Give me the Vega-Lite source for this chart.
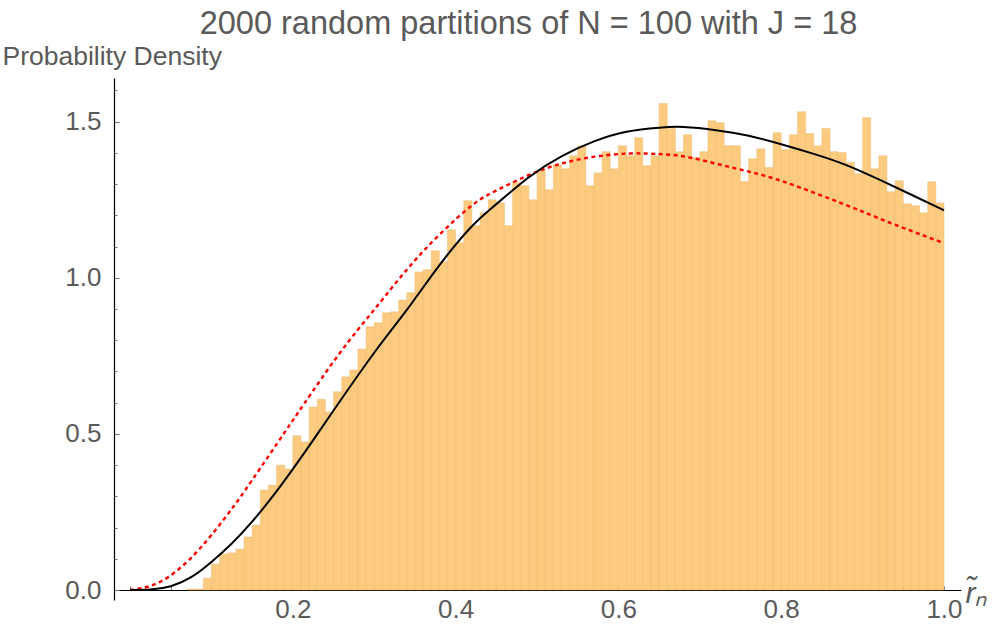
{
  "$schema": "https://vega.github.io/schema/vega-lite/v6.json",
  "width": 847,
  "height": 522,
  "autosize": {"type": "none"},
  "padding": {"left": 114, "top": 78, "right": 39, "bottom": 26},
  "background": "white",
  "config": {"view": {"stroke": null}, "font": "Liberation Sans"},
  "title": {
    "text": "2000 random partitions of N = 100 with J = 18",
    "font": "Liberation Sans",
    "fontSize": 32.5,
    "fontWeight": "normal",
    "color": "#5a5a5a",
    "anchor": "middle",
    "frame": "group",
    "baseline": "alphabetic",
    "offset": 11,
    "dx": -9,
    "dy": 34
  },
  "resolve": {"axis": {"y": "independent"}},
  "datasets": {
    "hist": [
      {"x0": 0.07, "x1": 0.08, "d": 0.003},
      {"x0": 0.08, "x1": 0.09, "d": 0.003},
      {"x0": 0.09, "x1": 0.10, "d": 0.038},
      {"x0": 0.10, "x1": 0.11, "d": 0.083},
      {"x0": 0.11, "x1": 0.12, "d": 0.115},
      {"x0": 0.12, "x1": 0.13, "d": 0.119},
      {"x0": 0.13, "x1": 0.14, "d": 0.131},
      {"x0": 0.14, "x1": 0.15, "d": 0.170},
      {"x0": 0.15, "x1": 0.16, "d": 0.208},
      {"x0": 0.16, "x1": 0.17, "d": 0.320},
      {"x0": 0.17, "x1": 0.18, "d": 0.336},
      {"x0": 0.18, "x1": 0.19, "d": 0.400},
      {"x0": 0.19, "x1": 0.20, "d": 0.388},
      {"x0": 0.20, "x1": 0.21, "d": 0.494},
      {"x0": 0.21, "x1": 0.22, "d": 0.474},
      {"x0": 0.22, "x1": 0.23, "d": 0.586},
      {"x0": 0.23, "x1": 0.24, "d": 0.611},
      {"x0": 0.24, "x1": 0.25, "d": 0.570},
      {"x0": 0.25, "x1": 0.26, "d": 0.635},
      {"x0": 0.26, "x1": 0.27, "d": 0.683},
      {"x0": 0.27, "x1": 0.28, "d": 0.705},
      {"x0": 0.28, "x1": 0.29, "d": 0.772},
      {"x0": 0.29, "x1": 0.30, "d": 0.843},
      {"x0": 0.30, "x1": 0.31, "d": 0.856},
      {"x0": 0.31, "x1": 0.32, "d": 0.888},
      {"x0": 0.32, "x1": 0.33, "d": 0.891},
      {"x0": 0.33, "x1": 0.34, "d": 0.929},
      {"x0": 0.34, "x1": 0.35, "d": 0.952},
      {"x0": 0.35, "x1": 0.36, "d": 1.019},
      {"x0": 0.36, "x1": 0.37, "d": 1.026},
      {"x0": 0.37, "x1": 0.38, "d": 1.087},
      {"x0": 0.38, "x1": 0.39, "d": 1.051},
      {"x0": 0.39, "x1": 0.40, "d": 1.154},
      {"x0": 0.40, "x1": 0.41, "d": 1.112},
      {"x0": 0.41, "x1": 0.42, "d": 1.247},
      {"x0": 0.42, "x1": 0.43, "d": 1.167},
      {"x0": 0.43, "x1": 0.44, "d": 1.208},
      {"x0": 0.44, "x1": 0.45, "d": 1.250},
      {"x0": 0.45, "x1": 0.46, "d": 1.240},
      {"x0": 0.46, "x1": 0.47, "d": 1.167},
      {"x0": 0.47, "x1": 0.48, "d": 1.305},
      {"x0": 0.48, "x1": 0.49, "d": 1.295},
      {"x0": 0.49, "x1": 0.50, "d": 1.250},
      {"x0": 0.50, "x1": 0.51, "d": 1.346},
      {"x0": 0.51, "x1": 0.52, "d": 1.282},
      {"x0": 0.52, "x1": 0.53, "d": 1.362},
      {"x0": 0.53, "x1": 0.54, "d": 1.349},
      {"x0": 0.54, "x1": 0.55, "d": 1.391},
      {"x0": 0.55, "x1": 0.56, "d": 1.423},
      {"x0": 0.56, "x1": 0.57, "d": 1.295},
      {"x0": 0.57, "x1": 0.58, "d": 1.336},
      {"x0": 0.58, "x1": 0.59, "d": 1.404},
      {"x0": 0.59, "x1": 0.60, "d": 1.349},
      {"x0": 0.60, "x1": 0.61, "d": 1.423},
      {"x0": 0.61, "x1": 0.62, "d": 1.391},
      {"x0": 0.62, "x1": 0.63, "d": 1.449},
      {"x0": 0.63, "x1": 0.64, "d": 1.359},
      {"x0": 0.64, "x1": 0.65, "d": 1.391},
      {"x0": 0.65, "x1": 0.66, "d": 1.558},
      {"x0": 0.66, "x1": 0.67, "d": 1.478},
      {"x0": 0.67, "x1": 0.68, "d": 1.404},
      {"x0": 0.68, "x1": 0.69, "d": 1.458},
      {"x0": 0.69, "x1": 0.70, "d": 1.385},
      {"x0": 0.70, "x1": 0.71, "d": 1.404},
      {"x0": 0.71, "x1": 0.72, "d": 1.503},
      {"x0": 0.72, "x1": 0.73, "d": 1.497},
      {"x0": 0.73, "x1": 0.74, "d": 1.423},
      {"x0": 0.74, "x1": 0.75, "d": 1.423},
      {"x0": 0.75, "x1": 0.76, "d": 1.308},
      {"x0": 0.76, "x1": 0.77, "d": 1.381},
      {"x0": 0.77, "x1": 0.78, "d": 1.413},
      {"x0": 0.78, "x1": 0.79, "d": 1.353},
      {"x0": 0.79, "x1": 0.80, "d": 1.465},
      {"x0": 0.80, "x1": 0.81, "d": 1.410},
      {"x0": 0.81, "x1": 0.82, "d": 1.458},
      {"x0": 0.82, "x1": 0.83, "d": 1.532},
      {"x0": 0.83, "x1": 0.84, "d": 1.462},
      {"x0": 0.84, "x1": 0.85, "d": 1.423},
      {"x0": 0.85, "x1": 0.86, "d": 1.478},
      {"x0": 0.86, "x1": 0.87, "d": 1.404},
      {"x0": 0.87, "x1": 0.88, "d": 1.401},
      {"x0": 0.88, "x1": 0.89, "d": 1.369},
      {"x0": 0.89, "x1": 0.90, "d": 1.333},
      {"x0": 0.90, "x1": 0.91, "d": 1.513},
      {"x0": 0.91, "x1": 0.92, "d": 1.349},
      {"x0": 0.92, "x1": 0.93, "d": 1.391},
      {"x0": 0.93, "x1": 0.94, "d": 1.276},
      {"x0": 0.94, "x1": 0.95, "d": 1.311},
      {"x0": 0.95, "x1": 0.96, "d": 1.237},
      {"x0": 0.96, "x1": 0.97, "d": 1.231},
      {"x0": 0.97, "x1": 0.98, "d": 1.208},
      {"x0": 0.98, "x1": 0.99, "d": 1.308},
      {"x0": 0.99, "x1": 1.00, "d": 1.240}
    ],
    "black": [
      {"x": 0.0, "y": 0.0},
      {"x": 0.025, "y": 0.0016},
      {"x": 0.05, "y": 0.012},
      {"x": 0.075, "y": 0.041},
      {"x": 0.1, "y": 0.09},
      {"x": 0.125, "y": 0.149},
      {"x": 0.15, "y": 0.219},
      {"x": 0.175, "y": 0.299},
      {"x": 0.2, "y": 0.387},
      {"x": 0.225, "y": 0.48},
      {"x": 0.25, "y": 0.575},
      {"x": 0.3, "y": 0.76},
      {"x": 0.34, "y": 0.897},
      {"x": 0.38, "y": 1.04},
      {"x": 0.42, "y": 1.165},
      {"x": 0.45, "y": 1.236},
      {"x": 0.49, "y": 1.322},
      {"x": 0.53, "y": 1.389},
      {"x": 0.57, "y": 1.437},
      {"x": 0.61, "y": 1.468},
      {"x": 0.65, "y": 1.481},
      {"x": 0.68, "y": 1.483},
      {"x": 0.72, "y": 1.473},
      {"x": 0.76, "y": 1.455},
      {"x": 0.8, "y": 1.428},
      {"x": 0.84, "y": 1.397},
      {"x": 0.88, "y": 1.361},
      {"x": 0.92, "y": 1.315},
      {"x": 0.96, "y": 1.266},
      {"x": 1.0, "y": 1.216}
    ],
    "red": [
      {"x": 0.0, "y": 0.0},
      {"x": 0.025, "y": 0.013},
      {"x": 0.05, "y": 0.047},
      {"x": 0.075, "y": 0.103},
      {"x": 0.1, "y": 0.176},
      {"x": 0.125, "y": 0.26},
      {"x": 0.15, "y": 0.352},
      {"x": 0.19, "y": 0.505},
      {"x": 0.214, "y": 0.597},
      {"x": 0.258, "y": 0.76},
      {"x": 0.3, "y": 0.898},
      {"x": 0.34, "y": 1.026},
      {"x": 0.38, "y": 1.138},
      {"x": 0.42, "y": 1.232},
      {"x": 0.448, "y": 1.277},
      {"x": 0.489, "y": 1.328},
      {"x": 0.53, "y": 1.366},
      {"x": 0.571, "y": 1.388},
      {"x": 0.612, "y": 1.398},
      {"x": 0.645, "y": 1.397},
      {"x": 0.68, "y": 1.389},
      {"x": 0.721, "y": 1.365},
      {"x": 0.762, "y": 1.339},
      {"x": 0.803, "y": 1.308},
      {"x": 0.858, "y": 1.255},
      {"x": 0.899, "y": 1.213},
      {"x": 0.94, "y": 1.17},
      {"x": 1.0, "y": 1.111}
    ]
  },
  "layer": [
    {
      "data": {"name": "hist"},
      "mark": {"type": "rect", "fill": "#fccb7f", "stroke": "#e6b76c", "strokeWidth": 0.6, "strokeOpacity": 0.7},
      "encoding": {
        "x": {
          "field": "x0", "type": "quantitative",
          "scale": {"domain": [-0.0197, 1.0209], "nice": false, "zero": false},
          "axis": {
            "values": [0, 0.05, 0.1, 0.15, 0.2, 0.25, 0.3, 0.35, 0.4, 0.45, 0.5, 0.55, 0.6, 0.65, 0.7, 0.75, 0.8, 0.85, 0.9, 0.95, 1.0],
            "labelExpr": "datum.value > 0.1 && abs(datum.value*5 - round(datum.value*5)) < 0.001 ? format(datum.value, '.1f') : ''",
            "offset": -10,
            "domainColor": "#000000",
            "domainWidth": 1.2,
            "tickColor": "#777777",
            "tickSize": -4,
            "tickWidth": 1,
            "labelPadding": 10,
            "labelFont": "Liberation Sans",
            "labelFontSize": 26,
            "labelColor": "#5a5a5a",
            "labelFlush": false,
            "labelOverlap": false,
            "grid": false,
            "title": "r̃ₙ",
            "titleFont": "Liberation Sans",
            "titleFontSize": 30,
            "titleFontStyle": "italic",
            "titleFontWeight": "normal",
            "titleColor": "#5a5a5a",
            "titleAlign": "left",
            "titleBaseline": "alphabetic",
            "titleX": 851,
            "titleY": 12
          }
        },
        "x2": {"field": "x1"},
        "y": {
          "field": "d", "type": "quantitative",
          "scale": {"domain": [-0.032, 1.64], "nice": false, "zero": false},
          "axis": {
            "orient": "left",
            "values": [0, 0.5, 1.0, 1.5],
            "format": ".1f",
            "domainColor": "#000000",
            "domainWidth": 1.2,
            "tickColor": "#777777",
            "tickSize": -5,
            "tickWidth": 1,
            "labelPadding": 18,
            "labelFont": "Liberation Sans",
            "labelFontSize": 26,
            "labelColor": "#5a5a5a",
            "labelFlush": false,
            "labelOverlap": false,
            "grid": false,
            "title": "Probability Density",
            "titleFont": "Liberation Sans",
            "titleFontSize": 26.5,
            "titleFontWeight": "normal",
            "titleColor": "#5a5a5a",
            "titleAngle": 0,
            "titleAlign": "left",
            "titleBaseline": "alphabetic",
            "titleX": -112,
            "titleY": -14
          }
        },
        "y2": {"datum": 0}
      }
    },
    {
      "data": {"name": "red"},
      "mark": {"type": "line", "color": "#ff0000", "strokeWidth": 2.4, "strokeDash": [4, 3.5], "interpolate": "natural"},
      "encoding": {
        "x": {"field": "x", "type": "quantitative"},
        "y": {"field": "y", "type": "quantitative", "axis": null}
      }
    },
    {
      "data": {"name": "black"},
      "mark": {"type": "line", "color": "#000000", "strokeWidth": 2, "interpolate": "natural"},
      "encoding": {
        "x": {"field": "x", "type": "quantitative"},
        "y": {
          "field": "y", "type": "quantitative",
          "axis": {
            "orient": "left",
            "values": [0.1, 0.2, 0.3, 0.4, 0.6, 0.7, 0.8, 0.9, 1.1, 1.2, 1.3, 1.4, 1.6],
            "labels": false,
            "domain": false,
            "tickColor": "#777777",
            "tickSize": -3,
            "tickWidth": 1,
            "grid": false,
            "title": null
          }
        }
      }
    }
  ]
}
